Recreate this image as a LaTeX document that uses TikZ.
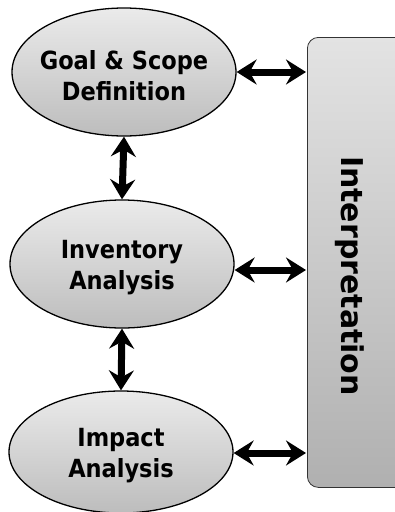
\documentclass[tikz,border=0pt]{standalone}
\usepackage{fontspec}
\setmainfont{DejaVu Sans}
\newfontfamily\condfont{DejaVu Sans Condensed}
\usetikzlibrary{shapes.geometric,arrows.meta}
\begin{document}
\begin{tikzpicture}[x=1pt,y=-1pt,
  stage/.style={ellipse,draw=black,line width=1.3pt,minimum width=224pt,minimum height=128pt,
    top color=gray!16,bottom color=gray!52,inner sep=0pt},
  stagetext/.style={align=center,inner sep=0pt,yshift=-4pt,font=\condfont\fontsize{25}{31}\selectfont\bfseries},
  link/.style={line width=7pt,{Stealth[length=20pt,width=25pt,inset=7pt]}-{Stealth[length=20pt,width=25pt,inset=7pt]}}]
\useasboundingbox (0,0) rectangle (395,512);
\fill[white] (0,0) rectangle (395,512);
\node[stage] (goal) at (124,72) {};
\node[stage] (inv) at (122,264) {};
\node[stage,minimum height=122pt] (imp) at (121,452) {};
\node[stagetext] (goalt) at (goal.center) {Goal \& Scope\\Definition};
\node[stagetext] (invt) at (inv.center) {Inventory\\Analysis};
\node[stagetext] (impt) at (imp.center) {Impact\\Analysis};
\node[draw=black!80,line width=0.8pt,rounded corners=11pt,top color=gray!22,bottom color=gray!62,
  minimum width=110pt,minimum height=450pt,anchor=north west,inner sep=0pt] (interp) at (307,37) {};
\node[rotate=-90,font=\fontsize{30}{36}\selectfont\bfseries] (itxt) at (350,276) {Interpretation};
\coordinate (r1) at (306,72);
\coordinate (r2) at (306,270);
\coordinate (r3) at (306,453);
\draw[link] (goal.east) -- (r1);
\draw[link] (inv.east |- r2) -- (r2);
\draw[link] (imp.east |- r3) -- (r3);
\draw[link] (goal.south) -- (inv.north);
\draw[link] (inv.south) -- (imp.north);
\end{tikzpicture}
\end{document}
